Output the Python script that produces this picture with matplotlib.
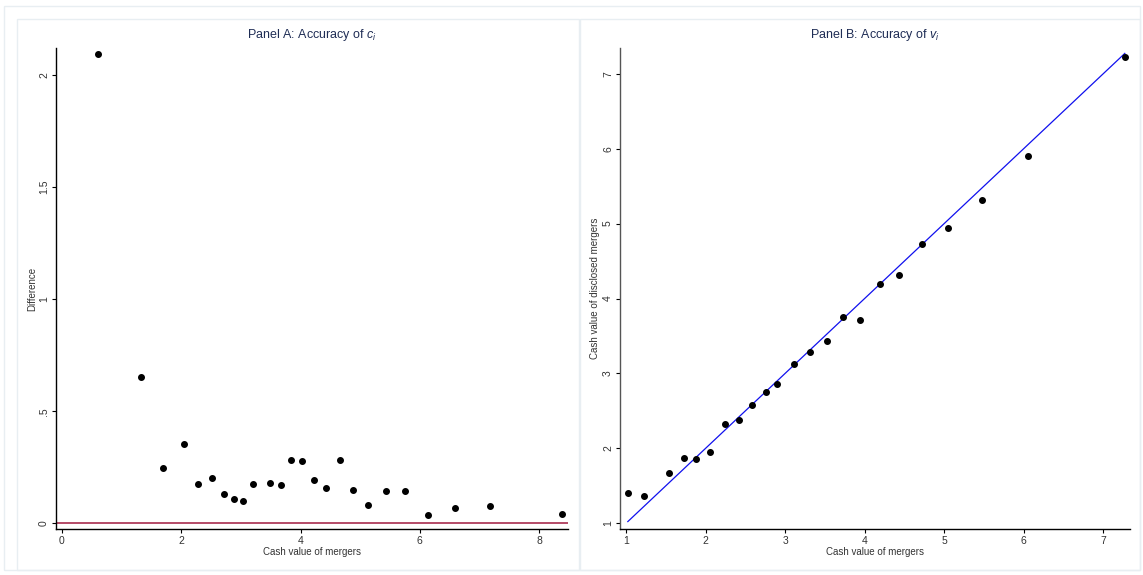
import matplotlib
matplotlib.use("Agg")
import matplotlib.pyplot as plt
from matplotlib.patches import Rectangle
import numpy as np

plt.rcParams['font.family'] = ['Liberation Sans', 'DejaVu Sans']
plt.rcParams['mathtext.fontset'] = 'custom'
plt.rcParams['mathtext.rm'] = 'Liberation Sans'
plt.rcParams['mathtext.it'] = 'Liberation Sans:italic'

# Panel A data
a_x = [0.596, 1.317, 1.696, 2.043, 2.286, 2.509, 2.720, 2.882, 3.031, 3.205,
       3.491, 3.677, 3.839, 4.019, 4.230, 4.422, 4.665, 4.876, 5.124, 5.429,
       5.752, 6.143, 6.584, 7.186, 8.379]
a_y = [2.093, 0.654, 0.245, 0.352, 0.174, 0.204, 0.131, 0.107, 0.098, 0.175,
       0.180, 0.172, 0.282, 0.279, 0.192, 0.156, 0.282, 0.149, 0.080, 0.143,
       0.143, 0.039, 0.068, 0.077, 0.043]
a_xticks = [0, 2, 4, 6, 8]
a_yticks = [0, 0.5, 1, 1.5, 2]
a_yticklabels = ['0', '.5', '1', '1.5', '2']

# Panel B data
b_x = [1.023, 1.223, 1.537, 1.724, 1.879, 2.056, 2.243, 2.425, 2.589, 2.758,
       2.903, 3.108, 3.309, 3.527, 3.732, 3.942, 4.197, 4.438, 4.720, 5.044,
       5.481, 6.050, 7.271]
b_y = [1.404, 1.364, 1.671, 1.876, 1.858, 1.951, 2.329, 2.378, 2.573, 2.751,
       2.853, 3.124, 3.280, 3.427, 3.751, 3.711, 4.198, 4.311, 4.724, 4.947,
       5.311, 5.898, 7.222]
b_xticks = [1, 2, 3, 4, 5, 6, 7]
b_yticks = [1, 2, 3, 4, 5, 6, 7]

W, H = 1143, 575
fig = plt.figure(figsize=(W / 100, H / 100), dpi=100)
fig.patch.set_facecolor('white')

border = '#e8eef2'
def rect(x0, y0, x1, y1):
    fig.patches.append(Rectangle((x0 / W, 1 - y1 / H), (x1 - x0) / W, (y1 - y0) / H,
                                 transform=fig.transFigure, fill=False,
                                 edgecolor=border, linewidth=1.0, zorder=0))
rect(4, 6, 1140, 570)
rect(17, 19, 579, 570)
rect(580, 19, 1140, 570)

def mkax(l, r, t, b):
    return fig.add_axes([l / W, 1 - b / H, (r - l) / W, (b - t) / H])

title_color = '#1f2d55'
txt_color = '#333333'

def style(ax):
    ax.spines['top'].set_visible(False)
    ax.spines['right'].set_visible(False)
    ax.spines['left'].set_linewidth(1.0)
    ax.spines['bottom'].set_linewidth(1.0)
    ax.tick_params(direction='out', length=3, width=0.8, labelsize=7.5,
                   labelcolor=txt_color, pad=2)
    for lab in ax.get_yticklabels():
        lab.set_rotation(90)
        lab.set_va('center')

# Panel A
axA = mkax(56, 568, 48, 529)
axA.scatter(a_x, a_y, s=16, color='black', zorder=3)
axA.axhline(0, color='#a01a3e', linewidth=1.1, zorder=2)
axA.set_xlim(-0.1006, 8.486)
axA.set_ylim(-0.025, 2.119)
axA.set_xticks(a_xticks)
axA.set_yticks(a_yticks)
axA.set_yticklabels(a_yticklabels)
axA.set_xlabel('Cash value of mergers', fontsize=7, color=txt_color, labelpad=1)
axA.set_ylabel('Difference', fontsize=7, color=txt_color)
axA.yaxis.set_label_coords((37 - 56) / 512, 0.5)
axA.set_title(r'Panel A: Accuracy of $c_i$', fontsize=9, color=title_color, pad=7)
style(axA)

# Panel B
axB = mkax(620, 1130, 48, 529)
axB.scatter(b_x, b_y, s=16, color='black', zorder=3)
lx = np.array([min(b_x), max(b_x)])
axB.plot(lx, lx, color='#1010ee', linewidth=0.9, zorder=2)
axB.set_xlim(0.9246, 7.336)
axB.set_ylim(0.924, 7.343)
axB.set_xticks(b_xticks)
axB.set_yticks(b_yticks)
axB.set_xlabel('Cash value of mergers', fontsize=7, color=txt_color, labelpad=1)
axB.set_ylabel('Cash value of disclosed mergers', fontsize=7, color=txt_color)
axB.yaxis.set_label_coords((600 - 620) / 510, 0.5)
axB.set_title(r'Panel B: Accuracy of $v_i$', fontsize=9, color=title_color, pad=7)
style(axB)
axB.spines['left'].set_color('#555555')

fig.savefig('out.png', dpi=100)
